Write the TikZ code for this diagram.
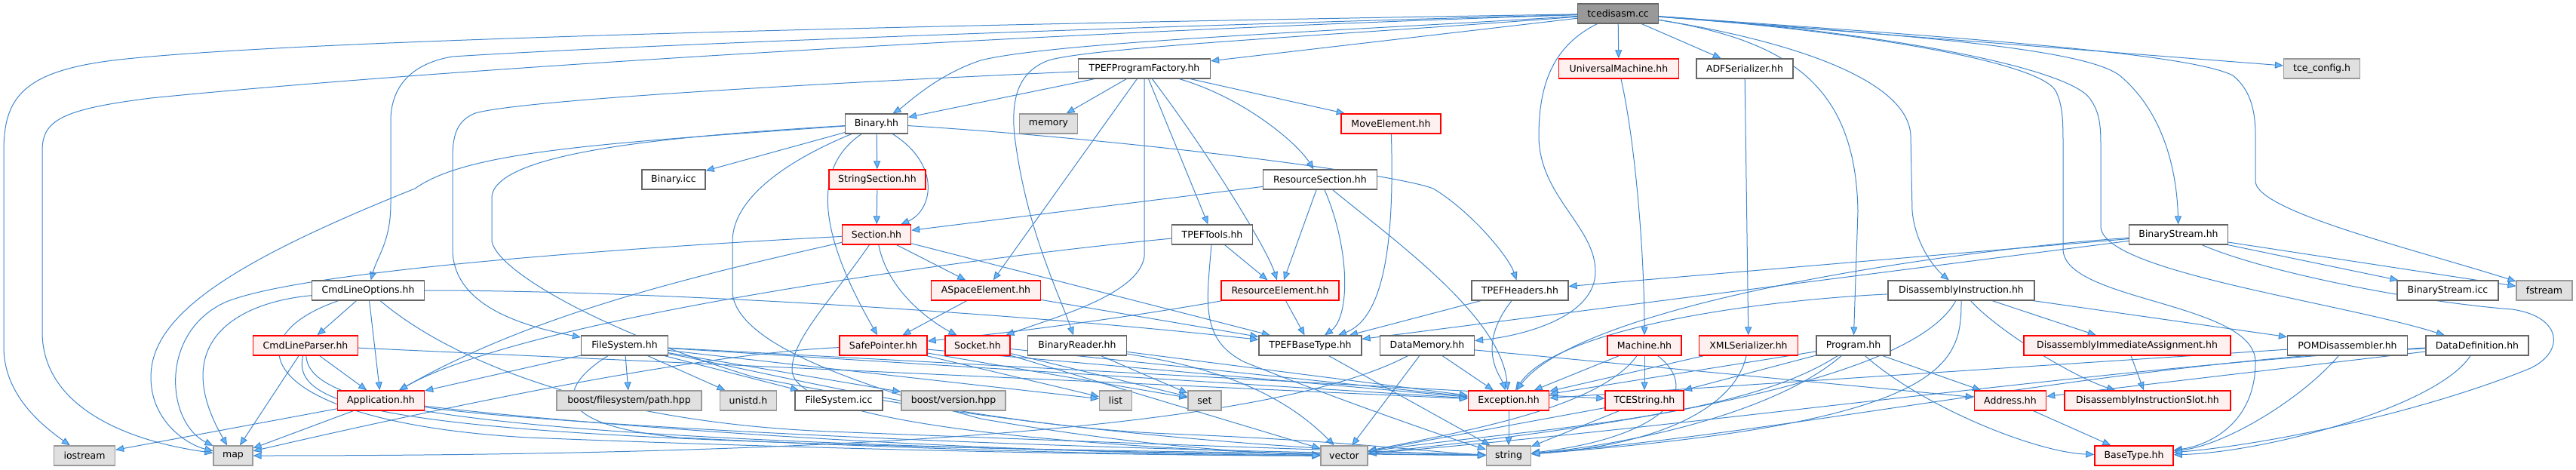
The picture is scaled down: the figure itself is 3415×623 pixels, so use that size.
\documentclass[tikz,border=0pt]{standalone}
\usepackage{fontspec}
\setmainfont{DejaVu Sans}
\usetikzlibrary{arrows.meta}
\definecolor{edgec}{HTML}{4287CC}
\definecolor{tipc}{HTML}{63B8FF}
\definecolor{bordn}{HTML}{666666}
\definecolor{fillr}{HTML}{FFF0F0}
\definecolor{fillg}{HTML}{E0E0E0}
\definecolor{bordg}{HTML}{999999}
\definecolor{fillroot}{HTML}{999999}
\pgfdeclarelayer{bg}
\pgfsetlayers{bg,main}
\newcommand\mknode[6]{\node[#2, minimum width=#5pt] (#1) at (#3,#4) {#6};}
\begin{document}
\begin{tikzpicture}[x=1pt,y=-1pt,
 nd/.style={draw=bordn, fill=white, line width=1.2pt, minimum height=26pt, inner sep=0pt, font=\fontsize{12.5}{14}\selectfont, text=black},
 rd/.style={nd, draw=red, fill=fillr, line width=1.4pt},
 gr/.style={nd, draw=bordg, fill=fillg},
 rt/.style={nd, draw=bordn, fill=fillroot},
 e/.style={draw=edgec, line width=1pt, -{Triangle[length=11pt,width=9pt,fill=tipc]}}]
\useasboundingbox (0,0) rectangle (3415,623);
% row 0
\mknode{root}{rt}{2145}{18}{107}{tcedisasm.cc}
% row 1
\mknode{tpf}{nd}{1517}{91}{175}{TPEFProgramFactory.hh}
\mknode{um}{rd}{2146}{91}{159}{UniversalMachine.hh}
\mknode{adf}{nd}{2313}{91}{128}{ADFSerializer.hh}
\mknode{tcecfg}{gr}{3078}{91}{101}{tce\_config.h}
% row 2
\mknode{bin}{nd}{1162}{164}{83}{Binary.hh}
\mknode{mem}{gr}{1390}{164}{77}{memory}
\mknode{mov}{rd}{1844}{164}{132}{MoveElement.hh}
% row 3
\mknode{bicc}{nd}{893}{238}{84}{Binary.icc}
\mknode{strs}{rd}{1163}{238}{128}{StringSection.hh}
\mknode{ress}{nd}{1750}{238}{151}{ResourceSection.hh}
% row 4
\mknode{sec}{rd}{1162}{311}{91}{Section.hh}
\mknode{tools}{nd}{1607}{311}{107}{TPEFTools.hh}
\mknode{bs}{nd}{2888}{311}{131}{BinaryStream.hh}
% row 5
\mknode{clo}{nd}{488}{385}{149}{CmdLineOptions.hh}
\mknode{ase}{rd}{1307}{385}{145}{ASpaceElement.hh}
\mknode{rese}{rd}{1697}{385}{156}{ResourceElement.hh}
\mknode{hdr}{nd}{2015}{385}{128}{TPEFHeaders.hh}
\mknode{di}{nd}{2600}{385}{194}{DisassemblyInstruction.hh}
\mknode{bsicc}{nd}{3245}{385}{134}{BinaryStream.icc}
\mknode{fst}{gr}{3373}{385}{74}{fstream}
% row 6
\mknode{clp}{rd}{405}{458}{139}{CmdLineParser.hh}
\mknode{fs}{nd}{828}{458}{115}{FileSystem.hh}
\mknode{sp}{rd}{1171}{458}{116}{SafePointer.hh}
\mknode{sock}{rd}{1296}{458}{86}{Socket.hh}
\mknode{br}{nd}{1428}{458}{131}{BinaryReader.hh}
\mknode{tbt}{nd}{1737}{458}{136}{TPEFBaseType.hh}
\mknode{dm}{nd}{1892}{458}{125}{DataMemory.hh}
\mknode{mach}{rd}{2180}{458}{98}{Machine.hh}
\mknode{xml}{rd}{2318}{458}{131}{XMLSerializer.hh}
\mknode{prog}{nd}{2457}{458}{98}{Program.hh}
\mknode{dia}{rd}{2820}{458}{274}{DisassemblyImmediateAssignment.hh}
\mknode{pom}{nd}{3112}{458}{159}{POMDisassembler.hh}
\mknode{dd}{nd}{3284}{458}{136}{DataDefinition.hh}
% row 7
\mknode{app}{rd}{505}{531}{115}{Application.hh}
\mknode{bfp}{gr}{834}{531}{192}{boost/filesystem/path.hpp}
\mknode{unistd}{gr}{992}{531}{75}{unistd.h}
\mknode{fsicc}{nd}{1112}{531}{116}{FileSystem.icc}
\mknode{bver}{gr}{1264}{531}{138}{boost/version.hpp}
\mknode{list}{gr}{1479}{531}{43}{list}
\mknode{set}{gr}{1597}{531}{44}{set}
\mknode{exc}{rd}{2000}{531}{107}{Exception.hh}
\mknode{tces}{rd}{2180}{531}{104}{TCEString.hh}
\mknode{addr}{rd}{2665}{531}{95}{Address.hh}
\mknode{dis}{rd}{2847}{531}{220}{DisassemblyInstructionSlot.hh}
% row 8
\mknode{ios}{gr}{112}{604}{81}{iostream}
\mknode{map}{gr}{309}{604}{52}{map}
\mknode{vec}{gr}{1782}{604}{62}{vector}
\mknode{str}{gr}{2000}{604}{59}{string}
\mknode{bt}{rd}{2829}{604}{104}{BaseType.hh}

\begin{pgfonlayer}{bg}
% ---- root
\draw[e] (root) .. controls (1400,30) and (400,50) .. (150,80) .. controls (30,95) and (5,130) .. (5,200) -- (5,460) .. controls (5,520) and (50,560) .. (ios);
\draw[e] (root) .. controls (1400,42) and (600,90) .. (200,130) .. controls (80,145) and (56,160) .. (56,200) -- (56,440) .. controls (56,540) and (170,585) .. (map);
\draw[e] (root) .. controls (1400,38) and (800,62) .. (600,75) .. controls (540,85) and (518,120) .. (518,160) -- (518,270) .. controls (518,320) and (500,340) .. (clo);
\draw[e] (root) .. controls (1800,40) and (1400,55) .. (1300,80) .. controls (1240,100) and (1200,140) .. (bin);
\draw[e] (root) .. controls (1800,45) and (1450,62) .. (1390,80) .. controls (1350,95) and (1340,130) .. (1345,180) .. controls (1360,300) and (1400,380) .. (br);
\draw[e] (root) -- (tpf);
\draw[e] (root) -- (um);
\draw[e] (root) -- (adf);
\draw[e] (root) .. controls (2060,60) and (2040,110) .. (2040,180) .. controls (2040,260) and (2115,300) .. (2115,360) .. controls (2115,420) and (2020,445) .. (dm);
\draw[e] (root) .. controls (2380,55) and (2460,120) .. (2463,280) -- (prog);
\draw[e] (root) .. controls (2350,50) and (2530,100) .. (2533,180) -- (2535,280) .. controls (2540,330) and (2570,360) .. (di);
\draw[e] (root) .. controls (2500,45) and (2760,62) .. (2810,100) .. controls (2870,150) and (2886,230) .. (bs);
\draw[e] (root) .. controls (2600,50) and (2900,70) .. (2960,100) .. controls (2985,120) and (2990,150) .. (2990,180) -- (2990,240) .. controls (2990,280) and (3200,330) .. (fst);
\draw[e] (root) -- (tcecfg);
\draw[e] (root) .. controls (2500,42) and (2740,90) .. (2770,130) .. controls (2785,150) and (2785,170) .. (2785,200) -- (2785,300) .. controls (2785,360) and (3100,400) .. (dd);
\draw[e] (root) .. controls (2450,40) and (2700,80) .. (2725,120) .. controls (2735,140) and (2735,160) .. (2735,200) -- (2735,330) .. controls (2735,400) and (2990,400) .. (2990,480) .. controls (2990,560) and (2930,590) .. (bt);
% ---- TPEFProgramFactory
\draw[e] (tpf) .. controls (1200,105) and (700,130) .. (630,150) .. controls (605,160) and (600,180) .. (600,210) -- (600,330) .. controls (600,400) and (680,430) .. (fs);
\draw[e] (tpf) -- (bin);
\draw[e] (tpf) -- (mem);
\draw[e] (tpf) -- (mov);
\draw[e] (tpf) -- (tools);
\draw[e] (tpf) -- (ase);
\draw[e] (tpf) .. controls (1650,130) and (1720,190) .. (ress);
\draw[e] (tpf) .. controls (1600,200) and (1680,330) .. (rese);
\draw[e] (tpf) .. controls (1517,200) and (1517,300) .. (1517,340) .. controls (1510,390) and (1400,420) .. (sock);
% ---- Binary
\draw[e] (bin) .. controls (800,190) and (620,200) .. (550,250) .. controls (300,350) and (200,420) .. (200,500) .. controls (200,560) and (250,590) .. (map);
\draw[e] (bin) .. controls (900,180) and (660,200) .. (652,260) -- (652,320) .. controls (660,360) and (800,440) .. (1000,500) .. controls (1400,580) and (1800,600) .. (str);
\draw[e] (bin) .. controls (1050,210) and (971,260) .. (971,320) -- (971,390) .. controls (980,450) and (1100,500) .. (1300,555) .. controls (1500,590) and (1650,600) .. (vec);
\draw[e] (bin) -- (bicc);
\draw[e] (bin) -- (strs);
\draw[e] (bin) .. controls (1250,220) and (1235,280) .. (sec);
\draw[e] (bin) .. controls (1080,220) and (1080,300) .. (sp);
\draw[e] (bin) .. controls (1500,185) and (1850,230) .. (1900,250) .. controls (1950,280) and (2000,340) .. (hdr);
% ---- sections
\draw[e] (strs) -- (sec);
\draw[e] (sec) -- (ase);
\draw[e] (sec) .. controls (1180,400) and (1260,440) .. (sock);
\draw[e] (sec) -- (tbt);
\draw[e] (sec) .. controls (800,330) and (400,360) .. (300,400) .. controls (210,440) and (220,560) .. (map);
\draw[e] (sec) .. controls (900,370) and (700,420) .. (app);
\draw[e] (sec) .. controls (1100,400) and (1050,450) .. (1050,490) .. controls (1050,560) and (1400,590) .. (vec);
\draw[e] (ress) -- (sec);
\draw[e] (ress) -- (rese);
\draw[e] (ress) .. controls (1790,330) and (1790,420) .. (tbt);
\draw[e] (ress) .. controls (1850,320) and (1990,420) .. (exc);
\draw[e] (tools) -- (rese);
\draw[e] (tools) .. controls (1300,340) and (700,420) .. (app);
\draw[e] (tools) .. controls (1600,400) and (1590,450) .. (1650,480) .. controls (1800,540) and (1950,590) .. (str);
\draw[e] (mov) .. controls (1848,300) and (1840,420) .. (tbt);
\draw[e] (ase) -- (sp);
\draw[e] (ase) -- (tbt);
\draw[e] (rese) -- (tbt);
\draw[e] (rese) .. controls (1500,420) and (1350,440) .. (sp);
\draw[e] (hdr) -- (tbt);
\draw[e] (hdr) .. controls (1955,460) and (1990,500) .. (exc);
\draw[e] (tbt) -- (str);
% ---- safe pointer, socket, reader
\draw[e] (sp) -- (list);
\draw[e] (sp) -- (set);
\draw[e] (sp) -- (exc);
\draw[e] (sp) .. controls (900,470) and (500,560) .. (map);
\draw[e] (sock) -- (set);
\draw[e] (sock) -- (exc);
\draw[e] (sock) -- (vec);
\draw[e] (br) -- (set);
\draw[e] (br) .. controls (1560,480) and (1680,500) .. (vec);
\draw[e] (br) -- (exc);
% ---- data memory etc
\draw[e] (dm) -- (exc);
\draw[e] (dm) -- (vec);
\draw[e] (dm) -- (addr);
\draw[e] (dm) .. controls (1700,560) and (1200,604) .. (map);
\draw[e] (um) .. controls (2170,200) and (2180,350) .. (mach);
\draw[e] (adf) -- (xml);
\draw[e] (mach) -- (exc);
\draw[e] (mach) -- (tces);
\draw[e] (mach) .. controls (2120,540) and (1950,570) .. (vec);
\draw[e] (mach) .. controls (2260,520) and (2200,580) .. (str);
\draw[e] (xml) -- (exc);
\draw[e] (xml) .. controls (2300,540) and (2200,590) .. (str);
\draw[e] (prog) -- (exc);
\draw[e] (prog) -- (tces);
\draw[e] (prog) -- (addr);
\draw[e] (prog) .. controls (2550,540) and (2700,600) .. (bt);
\draw[e] (prog) .. controls (2300,560) and (2000,570) .. (vec);
\draw[e] (prog) .. controls (2350,550) and (2150,590) .. (str);
\draw[e] (exc) -- (str);
\draw[e] (tces) -- (str);
\draw[e] (tces) -- (vec);
\draw[e] (addr) -- (bt);
% ---- disassembly
\draw[e] (di) .. controls (2300,400) and (2060,440) .. (exc);
\draw[e] (di) -- (dia);
\draw[e] (di) .. controls (2650,440) and (2750,500) .. (dis);
\draw[e] (di) -- (pom);
\draw[e] (di) .. controls (2560,460) and (2400,540) .. (vec);
\draw[e] (di) .. controls (2600,480) and (2590,560) .. (str);
\draw[e] (dia) -- (dis);
\draw[e] (pom) .. controls (3050,530) and (2950,590) .. (bt);
\draw[e] (pom) -- (exc);
\draw[e] (dd) -- (addr);
\draw[e] (dd) .. controls (3230,540) and (3000,600) .. (bt);
\draw[e] (dd) .. controls (2800,485) and (2300,560) .. (vec);
\draw[e] (dd) .. controls (2800,480) and (2400,570) .. (str);
% ---- binary stream
\draw[e] (bs) -- (bsicc);
\draw[e] (bs) -- (fst);
\draw[e] (bs) -- (hdr);
\draw[e] (bs) -- (tbt);
\draw[e] (bs) .. controls (2600,330) and (2100,400) .. (exc);
\draw[e] (bs) .. controls (3000,360) and (3200,400) .. (3330,410) .. controls (3400,420) and (3400,470) .. (3350,490) .. controls (3200,550) and (3000,590) .. (bt);
% ---- file system
\draw[e] (fs) -- (app);
\draw[e] (fs) -- (bfp);
\draw[e] (fs) -- (unistd);
\draw[e] (fs) -- (fsicc);
\draw[e] (fs) -- (bver);
\draw[e] (fs) -- (list);
\draw[e] (fs) -- (exc);
\draw[e] (fs) -- (tces);
\draw[e] (fs) .. controls (1000,490) and (1300,565) .. (1550,575) .. controls (1800,585) and (1900,600) .. (str);
\draw[e] (fs) .. controls (760,500) and (700,560) .. (900,580) .. controls (1300,600) and (1600,604) .. (vec);
% ---- command line
\draw[e] (clo) -- (clp);
\draw[e] (clo) -- (app);
\draw[e] (clo) .. controls (320,400) and (220,450) .. (map);
\draw[e] (clo) .. controls (900,385) and (1400,420) .. (tbt);
\draw[e] (clo) .. controls (300,450) and (350,560) .. (700,580) .. controls (1200,600) and (1600,604) .. (vec);
\draw[e] (clo) .. controls (600,480) and (800,560) .. (1100,572) .. controls (1500,588) and (1800,598) .. (str);
\draw[e] (clp) -- (app);
\draw[e] (clp) -- (map);
\draw[e] (clp) .. controls (380,560) and (600,590) .. (str);
\draw[e] (clp) .. controls (410,540) and (600,585) .. (vec);
\draw[e] (clp) -- (exc);
\draw[e] (app) -- (ios);
\draw[e] (app) -- (map);
\draw[e] (app) .. controls (700,560) and (1300,595) .. (str);
\draw[e] (app) .. controls (700,555) and (1200,600) .. (vec);
\end{pgfonlayer}
\end{tikzpicture}
\end{document}
